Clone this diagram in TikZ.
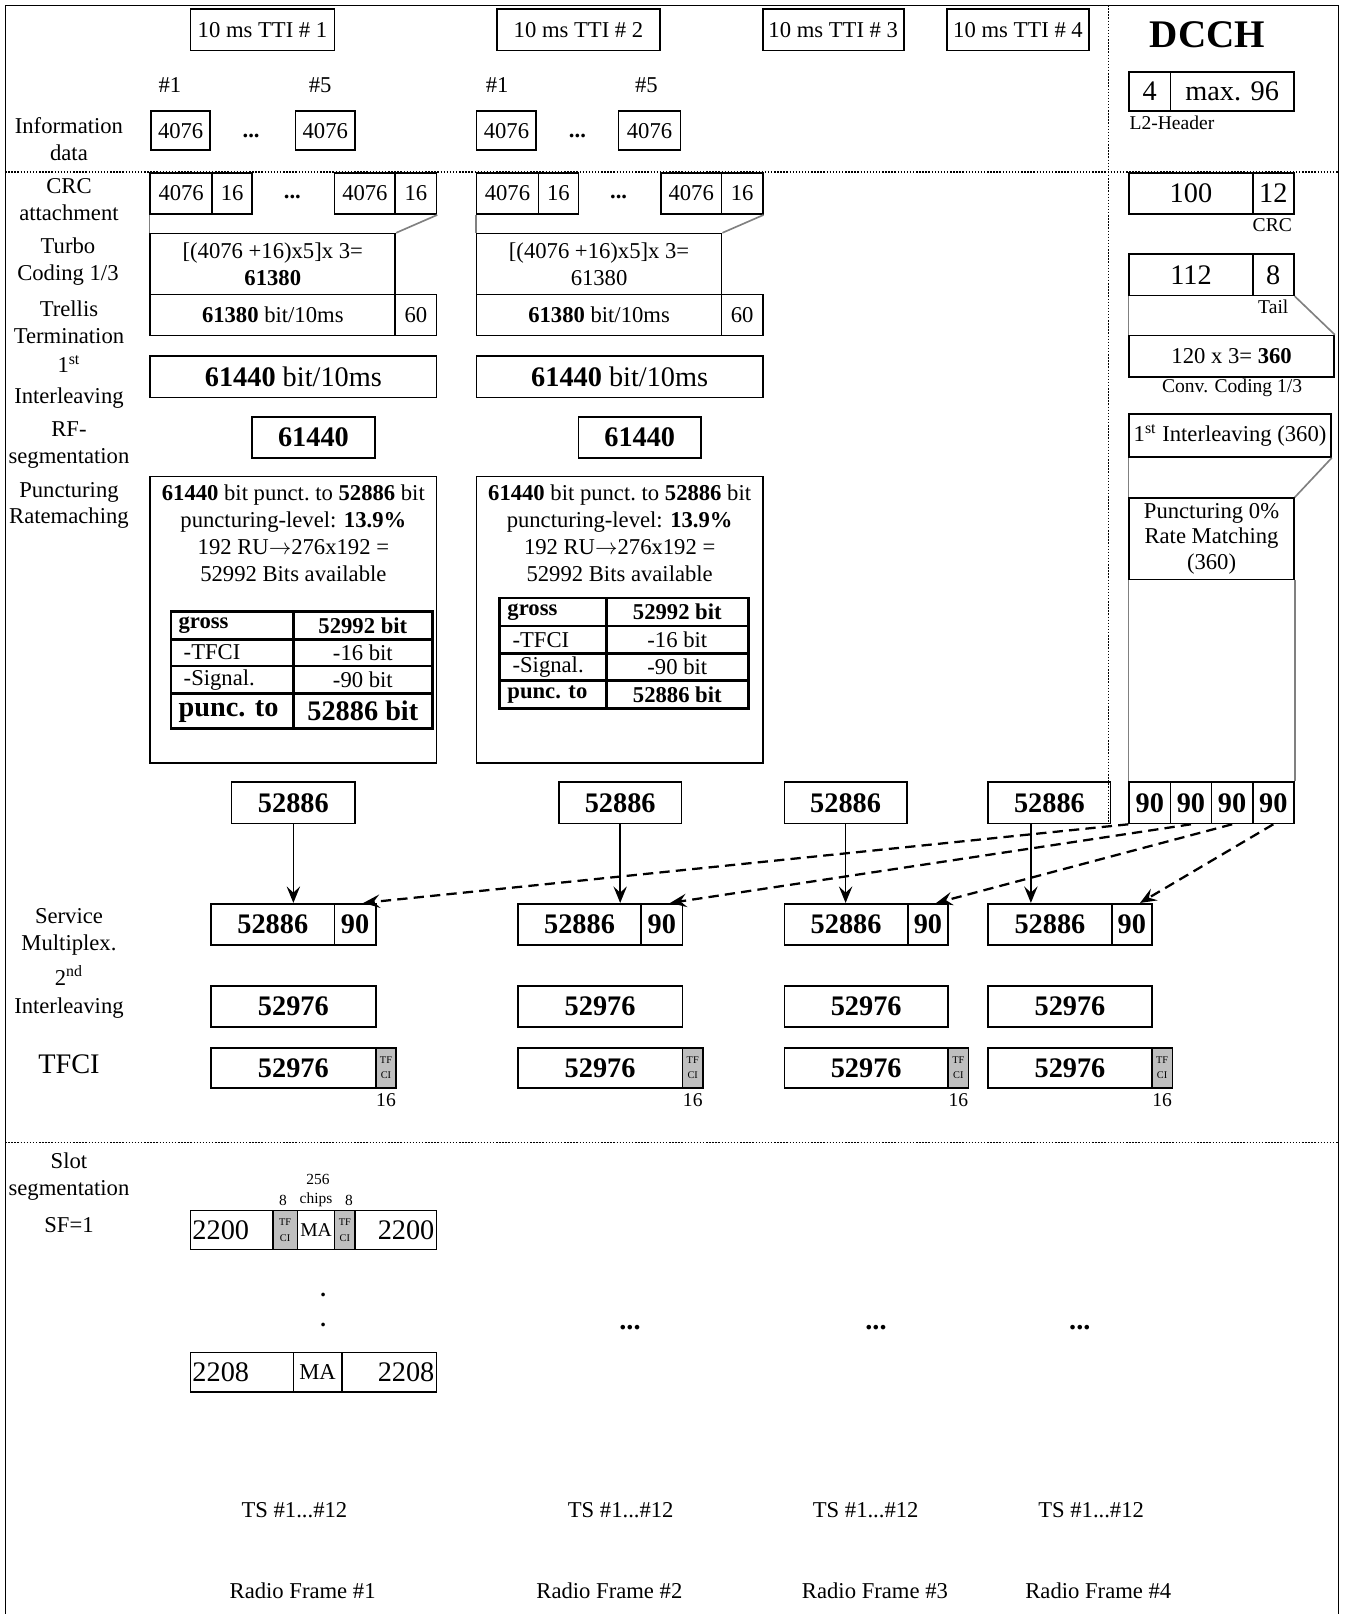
\documentclass[tikz,border=0pt]{standalone}
\usepackage{fontspec}
\setmainfont{Liberation Serif}
\usetikzlibrary{arrows.meta}
\newcommand\fsN{\fontsize{11}{13}\selectfont}
\newcommand\fsL{\fontsize{13.75}{16}\selectfont}
\newcommand\fsS{\fontsize{9.5}{11}\selectfont}
\newcommand\fsT{\fontsize{5}{7.5}\selectfont}
\newcommand\fsH{\fontsize{19}{22}\selectfont}
\newcommand\fsC{\fontsize{7.5}{9}\selectfont}
\newcommand\Bx[7]{\node[bx,#6,minimum width={(#4-#2)*0.5pt},minimum height={(#5-#3)*0.5pt}] (#1) at ({(#2+#4)/2},{(#3+#5)/2}) {#7};}
\tikzset{
 bx/.style={draw,line width=0.8pt,inner sep=0pt,align=center,font=\fsN},
 lg/.style={font=\fsL},
 lgb/.style={font=\fsL\bfseries},
 tc/.style={line width=1.3pt},
 gry/.style={fill=black!25,font=\fsT},
 lcell/.style={text width=#1,align=left},
 rcell/.style={text width=#1,align=right},
 lab/.style={inner sep=0pt,align=center,font=\fsN},
 sml/.style={inner sep=0pt,font=\fsS},
 tiny/.style={inner sep=0pt,font=\fsC},
 gline/.style={draw=black!50,line width=0.8pt},
 dotl/.style={line width=0.7pt,dash pattern=on 0.7pt off 0.8pt},
 arr/.style={line width=0.8pt,-{Stealth[length=8pt,width=6.5pt,inset=3pt]}},
 darr/.style={line width=1.1pt,dash pattern=on 5pt off 3pt,-{Stealth[length=8pt,width=6.5pt,inset=3pt]}},
 dts/.style={inner sep=0pt,font=\fsN\bfseries},
}
\begin{document}
\begin{tikzpicture}[x=0.5pt,y=-0.5pt]
\useasboundingbox (0,0) rectangle (1308,1568);
\draw[line width=0.6pt] (5,5) rectangle (1300,1600);
\draw[dotl] (5,167) -- (1300,167);
\draw[dotl] (5,1110) -- (1300,1110);
\draw[dotl] (1077,5) -- (1077,800);

% left labels
\node[lab] (lInfo) at (67,135) {Information\\data};
\node[lab] (lCRC) at (67,194) {CRC\\attachment};
\node[lab] (lTurbo) at (66,254) {Turbo\\Coding 1/3};
\node[lab] (lTrel) at (67,313) {Trellis\\Termination};
\node[lab,font=\fontsize{11}{15}\selectfont] (lInt) at (67,371) {1\textsuperscript{st}\\Interleaving};
\node[lab] (lRF) at (67,432) {RF-\\segmentation};
\node[lab] (lPunc) at (67,491) {Puncturing\\Ratemaching};
\node[lab] (lSM) at (67,905) {Service\\Multiplex.};
\node[lab,font=\fontsize{11}{14}\selectfont] (lInt2) at (67,964) {2\textsuperscript{nd}\\Interleaving};
\node[lab,font=\fsL] (lTFCI) at (67,1034) {TFCI};
\node[lab] (lSlot) at (67,1143) {Slot\\segmentation};
\node[lab] (lSF) at (67,1190) {SF=1};

% TTI boxes
\Bx{tti1}{185}{9}{325}{49}{}{10 ms TTI \# 1}
\Bx{tti2}{483}{9}{641}{49}{}{10 ms TTI \# 2}
\Bx{tti3}{741}{9}{878}{49}{}{10 ms TTI \# 3}
\Bx{tti4}{920}{9}{1058}{49}{}{10 ms TTI \# 4}

\node[lab] (h11) at (165,83) {\#1};
\node[lab] (h15) at (311,83) {\#5};
\node[lab] (h21) at (483,83) {\#1};
\node[lab] (h25) at (628,83) {\#5};

% information data
\Bx{inf1a}{147}{108}{204}{146}{}{4076}
\node[dts] (dA) at (244,132) {...};
\Bx{inf1b}{287}{108}{345}{146}{}{4076}
\Bx{inf2a}{463}{108}{521}{146}{}{4076}
\node[dts] (dB) at (561,132) {...};
\Bx{inf2b}{601}{108}{661}{146}{}{4076}

% CRC
\Bx{c1a}{146}{168}{206}{208}{}{4076}
\Bx{c1b}{206}{168}{245}{208}{}{16}
\node[dts] (dC) at (284,191) {...};
\Bx{c1c}{325}{168}{384}{208}{}{4076}
\Bx{c1d}{384}{168}{424}{208}{}{16}
\Bx{c2a}{463}{168}{523}{208}{}{4076}
\Bx{c2b}{523}{168}{562}{208}{}{16}
\node[dts] (dD) at (601,191) {...};
\Bx{c2c}{642}{168}{701}{208}{}{4076}
\Bx{c2d}{701}{168}{741}{208}{}{16}

% turbo
\Bx{tc1}{146}{227}{384}{286}{}{[(4076 +16)x5]x 3=\\\textbf{61380}}
\Bx{tc2}{463}{227}{701}{286}{}{[(4076 +16)x5]x 3=\\61380}
\draw[gline] (c1a.south west) -- (tc1.north west);
\draw[gline] (c1d.south east) -- (tc1.north east);
\draw[gline] (c2a.south west) -- (tc2.north west);
\draw[gline] (c2d.south east) -- (tc2.north east);

% trellis
\Bx{tr1}{146}{286}{384}{326}{}{\textbf{61380} bit/10ms}
\Bx{tr1b}{384}{286}{424}{326}{}{60}
\Bx{tr2}{463}{286}{701}{326}{}{\textbf{61380} bit/10ms}
\Bx{tr2b}{701}{286}{741}{326}{}{60}

% 1st interleaving
\Bx{il1}{146}{346}{424}{386}{lg}{\textbf{61440} bit/10ms}
\Bx{il2}{463}{346}{741}{386}{lg}{\textbf{61440} bit/10ms}

% RF segmentation
\Bx{rf1}{245}{405}{364}{445}{lgb}{61440}
\Bx{rf2}{562}{405}{681}{445}{lgb}{61440}

% puncturing boxes
\Bx{pu1}{146}{463}{424}{741}{}{}
\Bx{pu2}{463}{463}{741}{741}{}{}
\node[lab,anchor=north] (pt1) at (285,471) {\textbf{61440} bit punct.\ to \textbf{52886} bit\\puncturing-level: \textbf{13.9\%}\\192 RU$\rightarrow$276x192 =\\52992 Bits available};
\node[lab,anchor=north] (pt2) at (602,471) {\textbf{61440} bit punct.\ to \textbf{52886} bit\\puncturing-level: \textbf{13.9\%}\\192 RU$\rightarrow$276x192 =\\52992 Bits available};

% table 1
\Bx{ta1}{166}{594}{285}{621}{tc,lcell=52pt}{\textbf{gross}}
\Bx{tb1}{285}{594}{420}{621}{tc}{\textbf{52992 bit}}
\Bx{ta2}{166}{621}{285}{647}{tc,lcell=52pt}{\hspace*{2.5pt}-TFCI}
\Bx{tb2}{285}{621}{420}{647}{tc}{-16 bit}
\Bx{ta3}{166}{647}{285}{674}{tc,lcell=52pt}{\hspace*{2.5pt}-Signal.}
\Bx{tb3}{285}{647}{420}{674}{tc}{-90 bit}
\Bx{ta4}{166}{674}{285}{708}{tc,lgb,lcell=52pt}{punc.\ to}
\Bx{tb4}{285}{674}{420}{708}{tc,lgb}{52886 bit}

% table 2
\Bx{ua1}{485}{581}{589}{608}{tc,lcell=44pt}{\textbf{gross}}
\Bx{ub1}{589}{581}{727}{608}{tc}{\textbf{52992 bit}}
\Bx{ua2}{485}{608}{589}{635}{tc,lcell=44pt}{\hspace*{2.5pt}-TFCI}
\Bx{ub2}{589}{608}{727}{635}{tc}{-16 bit}
\Bx{ua3}{485}{635}{589}{661}{tc,lcell=44pt}{\hspace*{2.5pt}-Signal.}
\Bx{ub3}{589}{635}{727}{661}{tc}{-90 bit}
\Bx{ua4}{485}{661}{589}{688}{tc,lcell=44pt}{\textbf{punc.\ to}}
\Bx{ub4}{589}{661}{727}{688}{tc}{\textbf{52886 bit}}

% 52886 row
\Bx{t1}{225}{760}{345}{800}{lgb}{52886}
\Bx{t2}{543}{760}{662}{800}{lgb}{52886}
\Bx{t3}{762}{760}{881}{800}{lgb}{52886}
\Bx{t4}{960}{760}{1079}{800}{lgb}{52886}

% DCCH panel
\node[inner sep=0pt,font=\fsH\bfseries] (dcch) at (1173,34) {DCCH};
\Bx{d4}{1097}{70}{1137}{108}{lg}{4}
\Bx{dmax}{1137}{70}{1257}{108}{lg}{max. 96}
\node[sml,anchor=west] (l2h) at (1097,119) {L2-Header};
\Bx{d100}{1097}{168}{1217}{208}{lg}{100}
\Bx{d12}{1217}{168}{1257}{208}{lg}{12}
\node[sml] (lcrc) at (1236,219) {CRC};
\Bx{d112}{1097}{247}{1217}{287}{lg}{112}
\Bx{d8}{1217}{247}{1257}{287}{lg}{8}
\node[sml] (ltail) at (1237,298) {Tail};
\Bx{d360}{1097}{326}{1296}{366}{}{120 x 3= \textbf{360}}
\node[sml] (lconv) at (1197,377) {Conv. Coding 1/3};
\Bx{dint}{1097}{402}{1293}{444}{}{1\textsuperscript{st} Interleaving (360)}
\Bx{dpunc}{1097}{484}{1257}{563}{font=\fontsize{11}{12.5}\selectfont}{Puncturing 0\%\\Rate Matching\\(360)}
\Bx{n90a}{1097}{760}{1137}{800}{lgb}{90}
\Bx{n90b}{1137}{760}{1177}{800}{lgb}{90}
\Bx{n90c}{1177}{760}{1217}{800}{lgb}{90}
\Bx{n90d}{1217}{760}{1257}{800}{lgb}{90}
\draw[gline] (d112.south west) -- (d360.north west);
\draw[gline] (d8.south east) -- (d360.north east);
\draw[gline] (dint.south west) -- (dpunc.north west);
\draw[gline] (dint.south east) -- (dpunc.north east);
\draw[gline] (dpunc.south west) -- (n90a.north west);
\draw[gline] (dpunc.south east) -- (n90d.north east);

% service multiplex
\Bx{sm1a}{205}{878}{325}{918}{lgb}{52886}
\Bx{sm1b}{325}{878}{365}{918}{lgb}{90}
\Bx{sm2a}{503}{878}{623}{918}{lgb}{52886}
\Bx{sm2b}{623}{878}{663}{918}{lgb}{90}
\Bx{sm3a}{762}{878}{882}{918}{lgb}{52886}
\Bx{sm3b}{882}{878}{921}{918}{lgb}{90}
\Bx{sm4a}{960}{878}{1080}{918}{lgb}{52886}
\Bx{sm4b}{1080}{878}{1119}{918}{lgb}{90}

\draw[arr] (t1.south) -- (t1.south |- sm1a.north);
\draw[arr] (t2.south) -- (t2.south |- sm2a.north);
\draw[arr] (t3.south) -- (t3.south |- sm3a.north);
\coordinate (a4s) at ([xshift=-9pt]t4.south);
\coordinate (a4e) at (a4s |- sm4a.north);
\draw[arr] (a4s) -- (a4e);

\draw[darr] (n90a.south west) -- ([xshift=4pt]sm1b.north);
\draw[darr] (n90b.south) -- ([xshift=4pt]sm2b.north);
\draw[darr] (n90c.south) -- ([xshift=4pt]sm3b.north);
\draw[darr] (n90d.south) -- ([xshift=4pt]sm4b.north);

% 2nd interleaving
\Bx{i1}{205}{958}{365}{998}{lgb}{52976}
\Bx{i2}{503}{958}{663}{998}{lgb}{52976}
\Bx{i3}{762}{958}{921}{998}{lgb}{52976}
\Bx{i4}{960}{958}{1119}{998}{lgb}{52976}

% TFCI
\Bx{f1}{205}{1018}{365}{1057}{lgb}{52976}
\Bx{g1}{365}{1018}{385}{1057}{gry}{TF\\CI}
\Bx{f2}{503}{1018}{663}{1057}{lgb}{52976}
\Bx{g2}{663}{1018}{683}{1057}{gry}{TF\\CI}
\Bx{f3}{762}{1018}{921}{1057}{lgb}{52976}
\Bx{g3}{921}{1018}{941}{1057}{gry}{TF\\CI}
\Bx{f4}{960}{1018}{1119}{1057}{lgb}{52976}
\Bx{g4}{1119}{1018}{1139}{1057}{gry}{TF\\CI}
\node[sml] (n16a) at (375,1069) {16};
\node[sml] (n16b) at (673,1069) {16};
\node[sml] (n16c) at (931,1069) {16};
\node[sml] (n16d) at (1129,1069) {16};

% slot segmentation
\node[tiny] (c256) at (309,1146) {256};
\node[tiny] (c8a) at (275,1166) {8};
\node[tiny] (cch) at (307,1166) {chips};
\node[tiny] (c8b) at (339,1166) {8};
\Bx{s1a}{185}{1176}{265}{1214}{lg,lcell=38pt}{2200}
\Bx{s1g}{265}{1176}{289}{1214}{gry}{TF\\CI}
\Bx{s1m}{289}{1176}{325}{1214}{font=\fontsize{9.5}{11}\selectfont}{MA}
\Bx{s1h}{325}{1176}{345}{1214}{gry}{TF\\CI}
\Bx{s1b}{345}{1176}{424}{1214}{lg,rcell=37.5pt}{2200}
\node[dts] (vd1) at (314,1258) {.};
\node[dts] (vd2) at (314,1287) {.};
\Bx{s2a}{185}{1314}{285}{1352}{lg,lcell=48pt}{2208}
\Bx{s2m}{285}{1314}{332}{1352}{}{MA}
\Bx{s2b}{332}{1314}{424}{1352}{lg,rcell=44pt}{2208}
\node[inner sep=0pt,font=\fsL\bfseries] (hd1) at (612,1290) {...};
\node[inner sep=0pt,font=\fsL\bfseries] (hd2) at (851,1290) {...};
\node[inner sep=0pt,font=\fsL\bfseries] (hd3) at (1049,1290) {...};

% TS and radio frames
\node[lab] (ts1) at (286,1467) {TS \#1...\#12};
\node[lab] (ts2) at (603,1467) {TS \#1...\#12};
\node[lab] (ts3) at (841,1467) {TS \#1...\#12};
\node[lab] (ts4) at (1060,1467) {TS \#1...\#12};
\node[lab] (rf1l) at (294,1545) {Radio Frame \#1};
\node[lab] (rf2l) at (592,1545) {Radio Frame \#2};
\node[lab] (rf3l) at (850,1545) {Radio Frame \#3};
\node[lab] (rf4l) at (1067,1545) {Radio Frame \#4};
\end{tikzpicture}
\end{document}
